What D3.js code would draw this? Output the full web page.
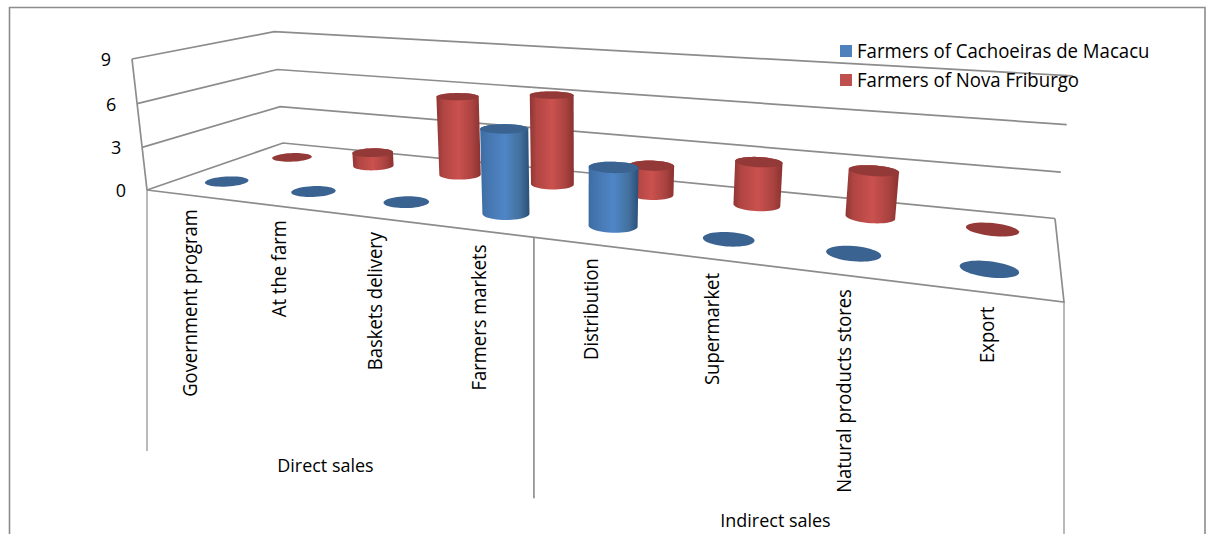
<!DOCTYPE html>
<html>
<head>
<meta charset="utf-8">
<script src="https://cdn.jsdelivr.net/npm/d3@7"></script>
<style>
  html, body { margin: 0; padding: 0; background: #fff; }
  svg { display: block; }
  text { font-family: "Open Sans", sans-serif; fill: #000; }
</style>
</head>
<body>
<svg id="chart" width="1208" height="534"></svg>
<script>
// Sales channels grouped by type
const categories = ["Government program", "At the farm", "Baskets delivery", "Farmers markets",
                    "Distribution", "Supermarket", "Natural products stores", "Export"];
const groups = ["Direct sales", "Indirect sales"];
const seriesNames = ["Farmers of Cachoeiras de Macacu", "Farmers of Nova Friburgo"];
const cachoeirasValues = [0, 0, 0, 5.5, 3.7, 0, 0, 0];
const friburgoValues = [0, 1, 5.7, 6.3, 2, 2.9, 3, 0];
const yTicks = [0, 3, 6, 9];

const width = 1208, height = 534;
const svg = d3.select("#chart");
const lineColor = "#8c8c8c";

// Perspective camera for the chart floor: four floor corners plus the vanishing point of the verticals
const floor = { fl: [147, 190], fr: [1064, 302], br: [1055, 218.5], bl: [283, 143] };
const vanish = [583, 3996];

function floorHomography({ fl, fr, br, bl }) {
  const dx1 = fr[0] - br[0], dx2 = bl[0] - br[0], sx = fl[0] - fr[0] + br[0] - bl[0];
  const dy1 = fr[1] - br[1], dy2 = bl[1] - br[1], sy = fl[1] - fr[1] + br[1] - bl[1];
  const det = dx1 * dy2 - dx2 * dy1;
  const g = (sx * dy2 - dx2 * sy) / det, h = (dx1 * sy - sx * dy1) / det;
  return {
    a: fr[0] - fl[0] + g * fr[0], b: bl[0] - fl[0] + h * bl[0], c: fl[0],
    d: fr[1] - fl[1] + g * fr[1], e: bl[1] - fl[1] + h * bl[1], f: fl[1], g, h
  };
}
const H = floorHomography(floor);

// Scales: position along the floor, depth of each series, and height above the floor
const xBand = d3.scaleBand(categories, [0, 1]);
const depthBand = d3.scaleBand(seriesNames, [0, 1]);
const heightScale = d3.scaleLinear([0, 9], [0, -0.03327]);

function project(u, v, value) {
  const s = heightScale(value);
  const w = H.g * u + H.h * v + 1 + s;
  return [(H.a * u + H.b * v + H.c + s * vanish[0]) / w,
          (H.d * u + H.e * v + H.f + s * vanish[1]) / w];
}

const polyline = d3.line();
const stroke = (g, pts, sw = 1.7) => g.append("path").attr("d", polyline(pts))
  .attr("fill", "none").attr("stroke", lineColor).attr("stroke-width", sw);

// Outer frame, open at the bottom
stroke(svg.append("g"), [[9.5, height], [9.5, 7.5], [1205, 7.5], [1205, height]], 1.6);

// Walls and floor
const walls = svg.append("g");
yTicks.forEach(t => {
  stroke(walls, [project(0, 0, t), project(0, 1, t), project(1, 1, t)]);
});
stroke(walls, [project(0, 0, 0), project(0, 0, 9)]);
stroke(walls, [project(0, 0, 0), project(1, 0, 0), project(1, 1, 0)]);

// Value axis labels sit to the left of the near wall edge
const yLabels = svg.append("g");
yTicks.forEach(t => {
  const p = project(0, 0, t);
  yLabels.append("text").attr("x", p[0] - 26).attr("y", p[1] + 7)
    .attr("text-anchor", "middle").attr("font-size", 18).text(t);
});

// Cylinders: the outline is the hull of the base and top circles on the floor grid
const defs = svg.append("defs");
function shade(id, stops) {
  const g = defs.append("linearGradient").attr("id", id)
    .attr("x1", 0).attr("x2", 1).attr("y1", 0).attr("y2", 0);
  stops.forEach(([o, c]) => g.append("stop").attr("offset", o).attr("stop-color", c));
}
shade("blueSide", [[0, "#3c6ca3"], [0.12, "#4474ad"], [0.5, "#4f86c6"], [0.8, "#43719f"], [1, "#2b4f78"]]);
shade("redSide", [[0, "#8f3634"], [0.15, "#b04542"], [0.5, "#ca514e"], [0.8, "#ab4341"], [1, "#8a3230"]]);

const angles = d3.range(48).map(i => i / 48 * 2 * Math.PI);
const radiusU = xBand.bandwidth() * 0.21;
const radiusV = depthBand.bandwidth() * 0.18;

function circleAt(cat, name, value) {
  const cu = xBand(cat) + xBand.bandwidth() / 2;
  const cv = depthBand(name) + depthBand.bandwidth() / 2;
  return angles.map(a => project(cu + radiusU * Math.cos(a), cv + radiusV * Math.sin(a), value));
}

function drawSeries(name, values, sideFill, topFill) {
  const g = svg.append("g");
  categories.forEach((cat, i) => {
    const value = values[i];
    if (value > 0) {
      const hull = d3.polygonHull(circleAt(cat, name, 0).concat(circleAt(cat, name, value)));
      g.append("path").attr("d", polyline(hull) + "Z").attr("fill", sideFill);
    }
    g.append("path").attr("d", polyline(circleAt(cat, name, value)) + "Z").attr("fill", topFill);
  });
}
drawSeries(seriesNames[1], friburgoValues, "url(#redSide)", "#933a38");
drawSeries(seriesNames[0], cachoeirasValues, "url(#blueSide)", "#3b6391");

// Category and group labels under the near floor edge, with group dividers
const labelFace = sel => sel.each(function () {
  this.setAttribute("textLength", this.getComputedTextLength() * 0.945);
  this.setAttribute("lengthAdjust", "spacingAndGlyphs");
});

const dividerLength = 261;
groups.forEach((_, i) => {
  [i / groups.length, (i + 1) / groups.length].forEach(u => {
    const p = project(u, 0, 0);
    stroke(svg, [p, [p[0], p[1] + dividerLength]], 1.2);
  });
  const mid = project((i + 0.5) / groups.length, 0, 0);
  svg.append("text").attr("x", mid[0] - 1).attr("y", mid[1] + 260)
    .attr("text-anchor", "middle").attr("font-size", 19).text(groups[i]).call(labelFace);
});

categories.forEach(cat => {
  const p = project(xBand(cat) + xBand.bandwidth() / 2, 0, 0);
  svg.append("text")
    .attr("transform", `translate(${p[0] + 7},${p[1] + 14}) rotate(-90)`)
    .attr("text-anchor", "end").attr("font-size", 19.5).text(cat).call(labelFace);
});

// Legend
const legendColors = ["#4f81bd", "#c0504d"];
const legendY = d3.scalePoint(seriesNames, [51, 80]);
seriesNames.forEach((name, i) => {
  svg.append("rect").attr("x", 840).attr("y", legendY(name) - 6).attr("width", 12).attr("height", 12)
    .attr("fill", legendColors[i]);
  svg.append("text").attr("x", 857).attr("y", legendY(name) + 7).attr("font-size", 19.7).text(name).call(labelFace);
});
</script>
</body>
</html>
